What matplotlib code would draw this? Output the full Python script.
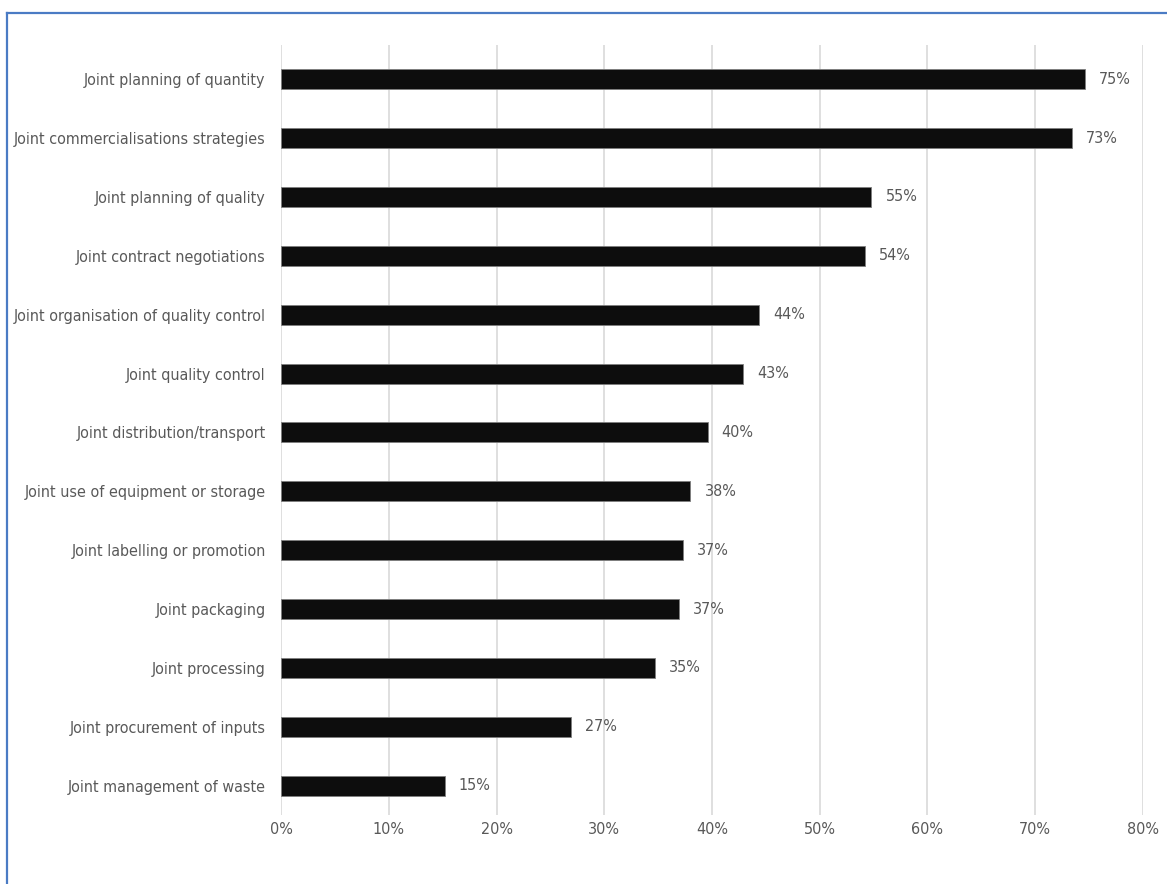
import matplotlib.pyplot as plt
from matplotlib import font_manager
from matplotlib.lines import Line2D

categories = [
    'Joint planning of quantity',
    'Joint commercialisations strategies',
    'Joint planning of quality',
    'Joint contract negotiations',
    'Joint organisation of quality control',
    'Joint quality control',
    'Joint distribution/transport',
    'Joint use of equipment or storage',
    'Joint labelling or promotion',
    'Joint packaging',
    'Joint processing',
    'Joint procurement of inputs',
    'Joint management of waste',
]
values = [74.6, 73.4, 54.8, 54.2, 44.4, 42.9, 39.6, 38.0, 37.3, 36.9, 34.7, 26.9, 15.2]
value_labels = ['75%', '73%', '55%', '54%', '44%', '43%', '40%', '38%', '37%', '37%', '35%', '27%', '15%']
xticks = [0, 10, 20, 30, 40, 50, 60, 70, 80]

# prefer a narrow face if one is installed
fonts = font_manager.fontManager.ttflist
names = {f.name for f in fonts}
condensed = [f.name for f in fonts if str(f.stretch) in ('condensed', 'semi-condensed', '75', '87')]
if 'Liberation Sans Narrow' in names:
    family, stretch, fs = 'Liberation Sans Narrow', 'normal', 12
elif condensed:
    family, stretch, fs = condensed[0], 'condensed', 11.5
else:
    family, stretch, fs = 'Liberation Sans', 'normal', 11
plt.rcParams['font.family'] = [family, 'DejaVu Sans']
plt.rcParams['font.stretch'] = stretch

text_color = '#595959'

fig = plt.figure(figsize=(11.67, 8.84), dpi=100)
ax = fig.add_axes([0.2408, 0.078, 0.9794 - 0.2408, 0.949 - 0.078])

pos = list(range(len(categories)))
ax.barh(pos, values, height=0.34, color='#0d0d0d', edgecolor='#7f7f7f', linewidth=0.6, zorder=3)

for p, v, lab in zip(pos, values, value_labels):
    ax.text(v + 1.3, p, lab, va='center', ha='left', fontsize=fs, color=text_color)

ax.set_yticks(pos)
ax.set_yticklabels(categories, fontsize=fs, color=text_color)
ax.set_ylim(12.5, -0.58)
ax.set_xlim(0, 80)
ax.set_xticks(xticks)
ax.set_xticklabels([f'{t}%' for t in xticks], fontsize=fs, color=text_color)
ax.tick_params(axis='both', length=0)
ax.tick_params(axis='y', pad=11)
ax.tick_params(axis='x', pad=5)
ax.grid(axis='x', color='#d9d9d9', linewidth=1.2, zorder=0)
for s in ax.spines.values():
    s.set_visible(False)

# blue frame on top and left edges
fig.add_artist(Line2D([7 / 1167, 1.0], [1 - 13 / 884, 1 - 13 / 884], color='#4a7bc4', linewidth=1.6))
fig.add_artist(Line2D([7 / 1167, 7 / 1167], [0.0, 1 - 13 / 884], color='#4a7bc4', linewidth=1.6))

fig.savefig('out.png', dpi=100)
